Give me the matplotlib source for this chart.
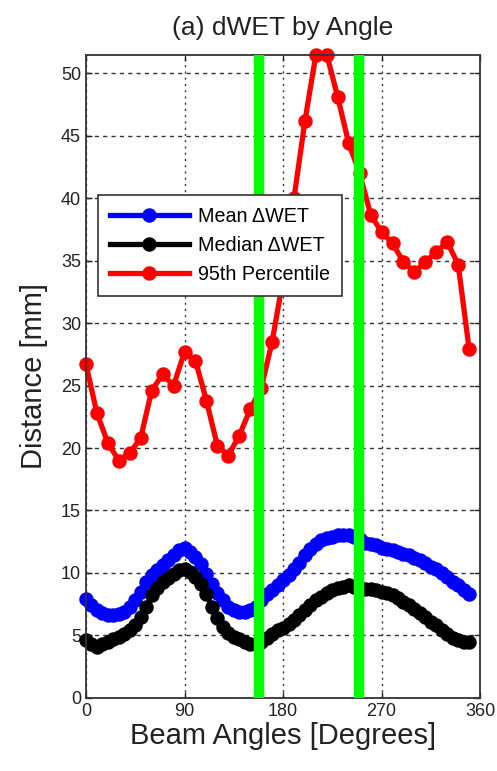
import numpy as np
import matplotlib
matplotlib.use("Agg")
import matplotlib.pyplot as plt

plt.rcParams['font.family'] = ['Liberation Sans', 'DejaVu Sans']

# 95th percentile, every 10 degrees
angles_p95 = list(range(0, 360, 10))
p95 = [26.7, 22.8, 20.4, 19.0, 19.6, 20.8, 24.6, 25.9, 25.0, 27.7,
       27.0, 23.8, 20.2, 19.4, 21.0, 23.1, 24.8, 28.5, 33.5, 40.0,
       46.2, 51.5, 51.5, 48.1, 44.4, 42.0, 38.7, 37.3, 36.4, 34.9,
       34.1, 34.9, 35.7, 36.5, 34.7, 27.9]

# mean / median dWET, every 5 degrees
angles = list(range(0, 355, 5))
mean_dwet = [7.9, 7.4, 7.0, 6.8, 6.6, 6.6, 6.7, 6.9, 7.3, 7.8,
             8.5, 9.3, 9.8, 10.2, 10.6, 11.0, 11.4, 11.8, 12.0, 11.7,
             11.3, 10.7, 9.9, 9.1, 8.4, 7.8, 7.3, 7.0, 6.9, 6.9,
             7.0, 7.3, 7.8, 8.3, 8.6, 9.0, 9.4, 9.8, 10.3, 10.8,
             11.4, 11.9, 12.3, 12.6, 12.8, 12.9, 13.0, 13.0, 13.0, 12.9,
             12.7, 12.4, 12.3, 12.2, 12.0, 11.9, 11.8, 11.7, 11.5, 11.4,
             11.2, 11.0, 10.8, 10.5, 10.3, 10.0, 9.7, 9.3, 9.0, 8.6, 8.3]
median_dwet = [4.6, 4.3, 4.1, 4.3, 4.5, 4.7, 4.9, 5.1, 5.4, 5.8,
               6.5, 7.3, 8.2, 8.8, 9.3, 9.6, 9.9, 10.2, 10.3, 10.1,
               9.7, 9.1, 8.3, 7.3, 6.4, 5.7, 5.2, 4.9, 4.7, 4.5,
               4.3, 4.3, 4.5, 4.8, 5.1, 5.4, 5.6, 5.9, 6.2, 6.6,
               7.0, 7.4, 7.8, 8.1, 8.4, 8.6, 8.8, 8.9, 9.0, 8.9,
               8.8, 8.7, 8.7, 8.6, 8.5, 8.4, 8.2, 8.0, 7.7, 7.4,
               7.1, 6.8, 6.5, 6.1, 5.8, 5.4, 5.1, 4.8, 4.6, 4.5, 4.5]

# angles marked by the green lines
marked_angles = [158, 249]

fig = plt.figure(figsize=(4.97, 7.71), dpi=100)
ax = fig.add_axes([0.173, 0.095, 0.793, 0.834])

style = dict(linewidth=3.8, marker='o', markersize=6.2, markeredgewidth=4.2,
             markerfacecolor='none', clip_on=False)
ax.plot(angles, mean_dwet, color='#0000ff', label='Mean \u0394WET', **style)
ax.plot(angles, median_dwet, color='black', label='Median \u0394WET', **style)
ax.plot(angles_p95, p95, color='#ff0000', label='95th Percentile', **style)

for a in marked_angles:
    ax.axvline(a, color='#00ff00', linewidth=7.5, zorder=5)

ax.set_xlim(0, 360)
ax.set_ylim(0, 51.5)
ax.set_xticks([0, 90, 180, 270, 360])
ax.set_yticks(range(0, 51, 5))
ax.tick_params(direction='in', top=True, right=True, length=4, width=1,
               labelsize=13, colors='#222222')
ax.grid(axis='y', color='#333333', linestyle=(0, (3, 3)), linewidth=1)
ax.grid(axis='x', color='#333333', linestyle=(0, (1.5, 3)), linewidth=1)
for s in ax.spines.values():
    s.set_linewidth(1.3)
    s.set_color('#333333')

ax.set_title('(a) dWET by Angle', fontsize=19, color='#222222', pad=14)
ax.set_xlabel('Beam Angles [Degrees]', fontsize=21, color='#222222', labelpad=2)
ax.set_ylabel('Distance [mm]', fontsize=21, color='#222222', labelpad=9)

leg = ax.legend(loc='upper left', bbox_to_anchor=(0.005, 0.797), fontsize=14.2,
                handlelength=4.0, handletextpad=0.5, borderpad=0.6,
                labelspacing=0.5, fancybox=False, framealpha=1,
                edgecolor='#333333')
leg.get_frame().set_linewidth(1.2)
leg.set_zorder(10)
for h in leg.legend_handles:
    h.set_markerfacecolor(h.get_color())

fig.savefig('out.png', dpi=100)
